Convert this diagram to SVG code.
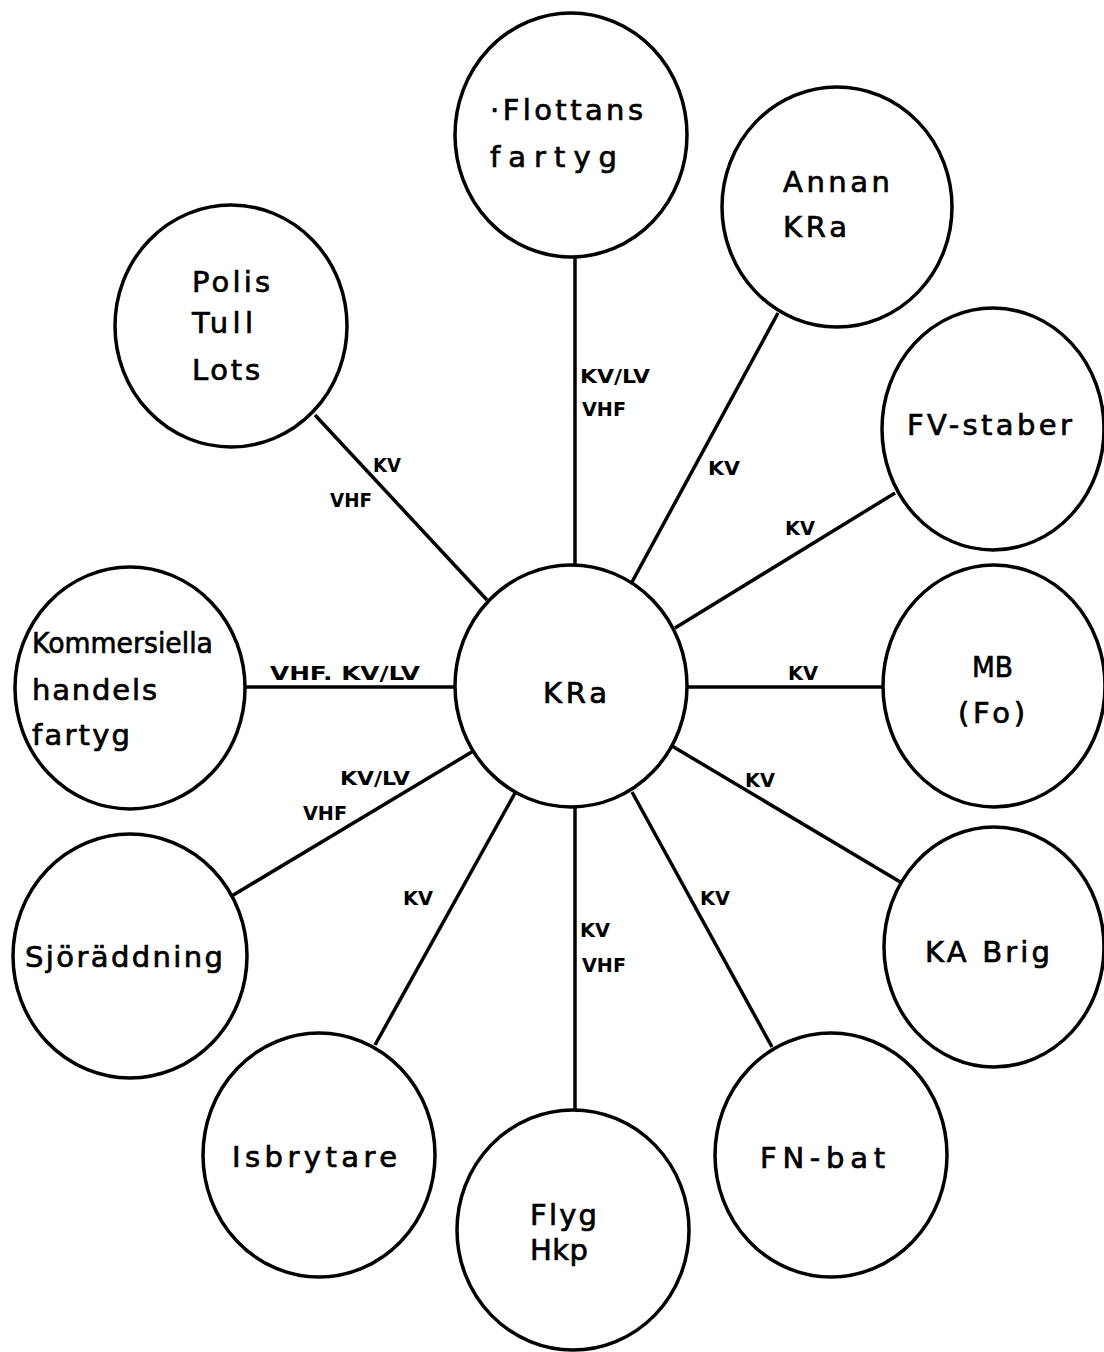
<svg xmlns="http://www.w3.org/2000/svg" width="1104" height="1352" viewBox="0 0 1104 1352">
<style>
.node{fill:#fff;stroke:#000;stroke-width:3.5}
.t{font-family:"DejaVu Sans","Liberation Sans",sans-serif;font-size:29px;fill:#000;stroke:#000;stroke-width:0.7}
.l{font-family:"DejaVu Sans","Liberation Sans",sans-serif;font-size:20px;font-weight:bold;fill:#000}
.c line{stroke:#000;stroke-width:3.5}
</style>
<rect width="1104" height="1352" fill="#fff"/>
<g id="connectors" class="c">
<line x1="575" y1="257" x2="575" y2="565"/>
<line x1="778" y1="313" x2="632" y2="582"/>
<line x1="315" y1="415" x2="487" y2="600"/>
<line x1="895" y1="493" x2="675" y2="628"/>
<line x1="245" y1="687" x2="455" y2="687"/>
<line x1="687" y1="687" x2="883" y2="687"/>
<line x1="230" y1="897" x2="475" y2="750"/>
<line x1="902" y1="883" x2="672" y2="746"/>
<line x1="375" y1="1045" x2="515" y2="793"/>
<line x1="575" y1="807" x2="575" y2="1110"/>
<line x1="772" y1="1047" x2="632" y2="792"/>
</g>
<g id="labels">
<text class="l" x="580" y="383" textLength="70" lengthAdjust="spacingAndGlyphs">KV/LV</text>
<text class="l" x="582" y="416" textLength="44" lengthAdjust="spacingAndGlyphs">VHF</text>
<text class="l" x="708" y="475" textLength="32" lengthAdjust="spacingAndGlyphs">KV</text>
<text class="l" x="373" y="472" textLength="28" lengthAdjust="spacingAndGlyphs">KV</text>
<text class="l" x="330" y="507" textLength="42" lengthAdjust="spacingAndGlyphs">VHF</text>
<text class="l" x="785" y="535" textLength="30" lengthAdjust="spacingAndGlyphs">KV</text>
<text class="l" x="270" y="680" textLength="150" lengthAdjust="spacingAndGlyphs">VHF. KV/LV</text>
<text class="l" x="788" y="680" textLength="30" lengthAdjust="spacingAndGlyphs">KV</text>
<text class="l" x="340" y="785" textLength="70" lengthAdjust="spacingAndGlyphs">KV/LV</text>
<text class="l" x="303" y="820" textLength="44" lengthAdjust="spacingAndGlyphs">VHF</text>
<text class="l" x="745" y="787" textLength="30" lengthAdjust="spacingAndGlyphs">KV</text>
<text class="l" x="403" y="905" textLength="30" lengthAdjust="spacingAndGlyphs">KV</text>
<text class="l" x="580" y="937" textLength="30" lengthAdjust="spacingAndGlyphs">KV</text>
<text class="l" x="582" y="972" textLength="44" lengthAdjust="spacingAndGlyphs">VHF</text>
<text class="l" x="700" y="905" textLength="30" lengthAdjust="spacingAndGlyphs">KV</text>
</g>
<g id="kra">
<ellipse class="node" cx="571" cy="686" rx="116" ry="121"/>
<text class="t" x="543" y="703" textLength="64" lengthAdjust="spacing">KRa</text>
</g>
<g id="flottans">
<ellipse class="node" cx="571" cy="135" rx="116" ry="122"/>
<text class="t" x="490" y="120" textLength="153" lengthAdjust="spacing">·Flottans</text>
<text class="t" x="490" y="167" textLength="127" lengthAdjust="spacing">fartyg</text>
</g>
<g id="annan">
<ellipse class="node" cx="837" cy="207" rx="115" ry="120"/>
<text class="t" x="783" y="192" textLength="107" lengthAdjust="spacing">Annan</text>
<text class="t" x="783" y="237" textLength="64" lengthAdjust="spacing">KRa</text>
</g>
<g id="polis">
<ellipse class="node" cx="231" cy="326" rx="116" ry="121"/>
<text class="t" x="192" y="292" textLength="78" lengthAdjust="spacing">Polis</text>
<text class="t" x="192" y="333" textLength="61" lengthAdjust="spacing">Tull</text>
<text class="t" x="192" y="380" textLength="68" lengthAdjust="spacing">Lots</text>
</g>
<g id="fvstaber">
<ellipse class="node" cx="993" cy="429" rx="111" ry="121"/>
<text class="t" x="907" y="435" textLength="165" lengthAdjust="spacing">FV-staber</text>
</g>
<g id="kommersiella">
<ellipse class="node" cx="130" cy="688" rx="115" ry="121"/>
<text class="t" x="32" y="653" textLength="181" lengthAdjust="spacingAndGlyphs">Kommersiella</text>
<text class="t" x="32" y="700" textLength="125" lengthAdjust="spacing">handels</text>
<text class="t" x="32" y="745" textLength="98" lengthAdjust="spacing">fartyg</text>
</g>
<g id="mb">
<ellipse class="node" cx="994" cy="686" rx="111" ry="121"/>
<text class="t" x="972" y="677" textLength="41" lengthAdjust="spacingAndGlyphs">MB</text>
<text class="t" x="958" y="723" textLength="67" lengthAdjust="spacing">(Fo)</text>
</g>
<g id="sjoraddning">
<ellipse class="node" cx="130" cy="956" rx="117" ry="122"/>
<text class="t" x="25" y="967" textLength="198" lengthAdjust="spacing">Sjöräddning</text>
</g>
<g id="kabrig">
<ellipse class="node" cx="994" cy="947" rx="110" ry="120"/>
<text class="t" x="925" y="962" textLength="125" lengthAdjust="spacing">KA Brig</text>
</g>
<g id="isbrytare">
<ellipse class="node" cx="319" cy="1155" rx="116" ry="122"/>
<text class="t" x="232" y="1167" textLength="165" lengthAdjust="spacing">Isbrytare</text>
</g>
<g id="flyg">
<ellipse class="node" cx="573" cy="1230" rx="116" ry="120"/>
<text class="t" x="530" y="1225" textLength="67" lengthAdjust="spacing">Flyg</text>
<text class="t" x="530" y="1260" textLength="58" lengthAdjust="spacing">Hkp</text>
</g>
<g id="fnbat">
<ellipse class="node" cx="831" cy="1155" rx="116" ry="122"/>
<text class="t" x="760" y="1168" textLength="125" lengthAdjust="spacing">FN-bat</text>
</g>
</svg>
